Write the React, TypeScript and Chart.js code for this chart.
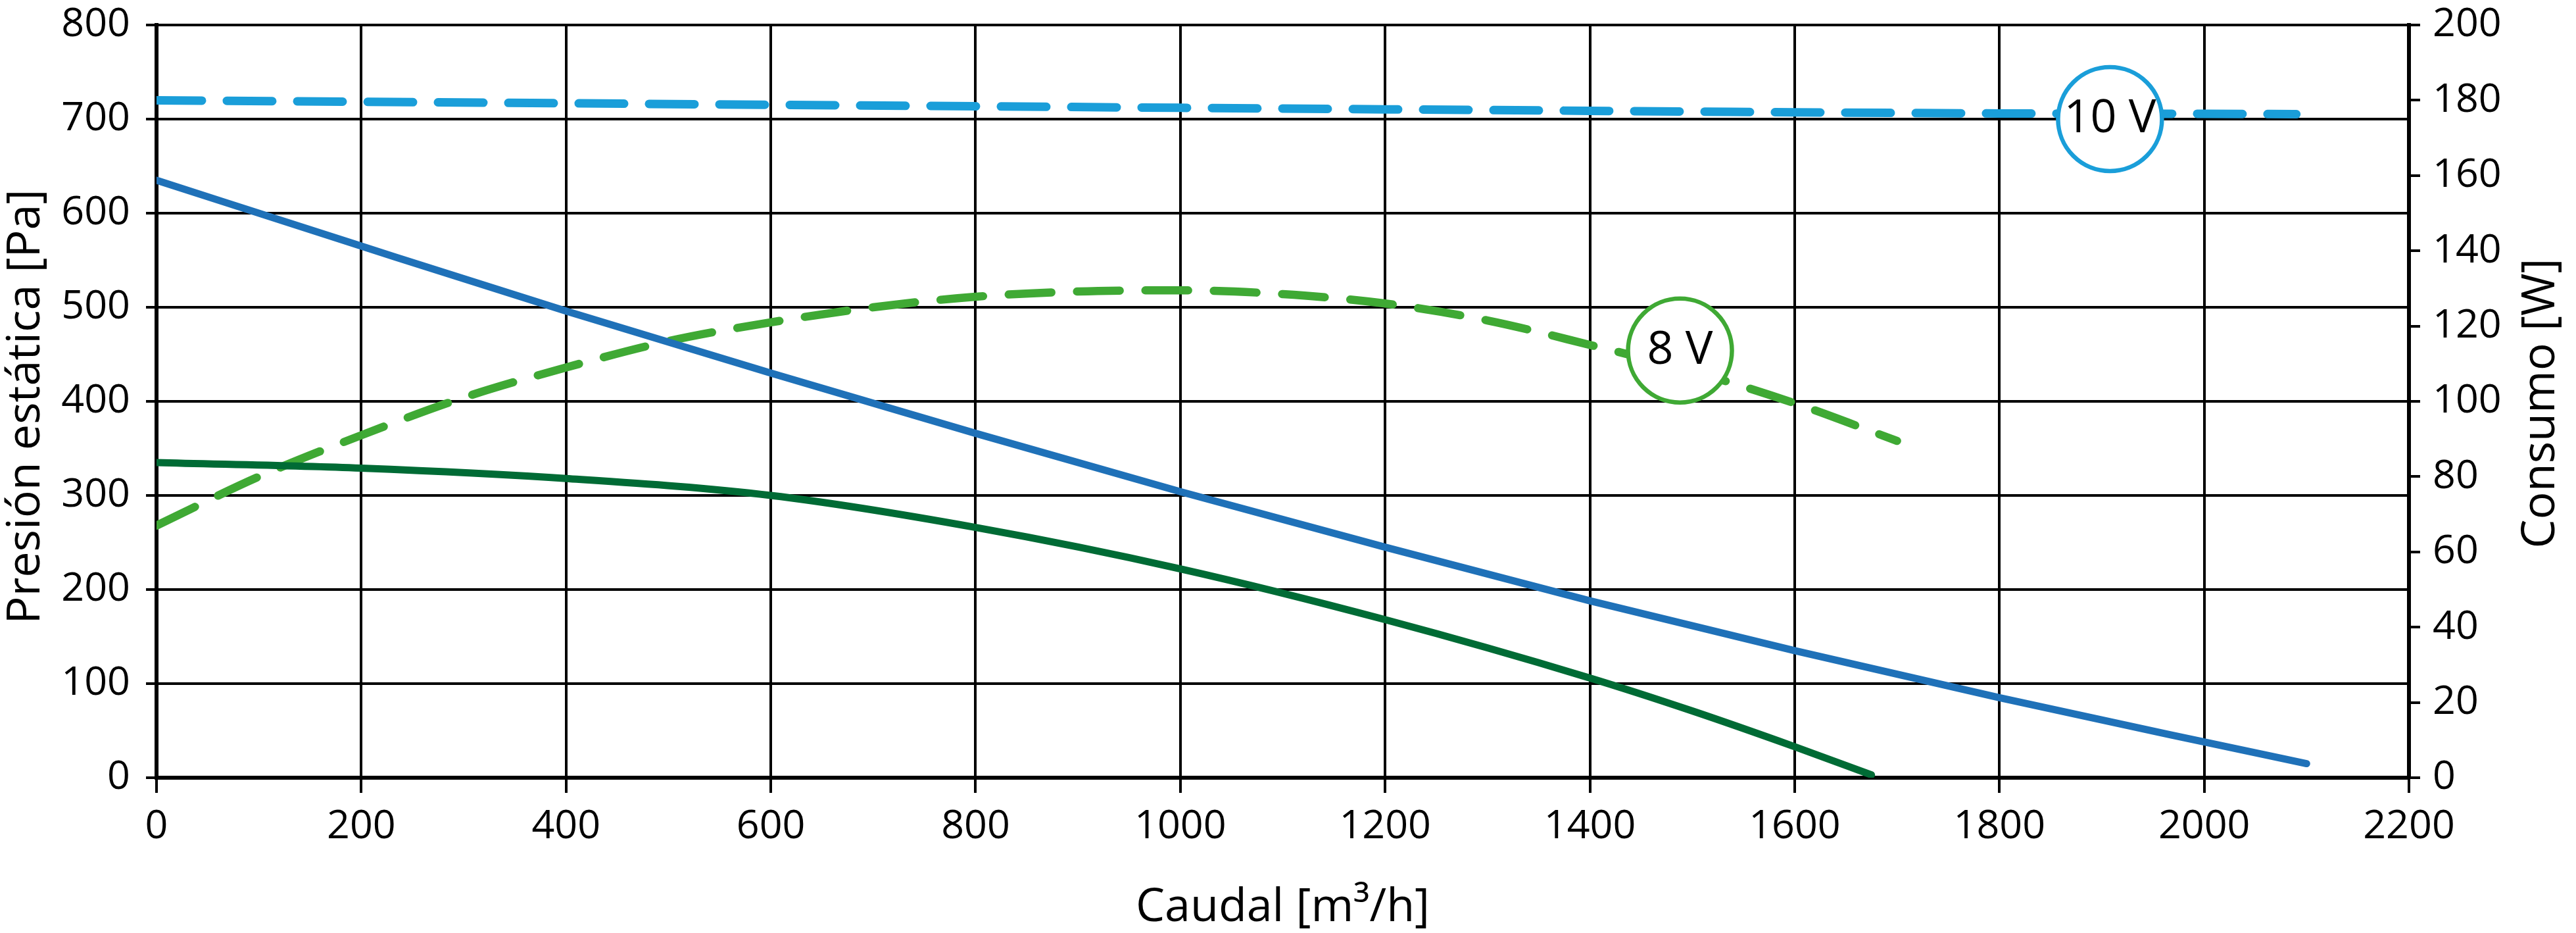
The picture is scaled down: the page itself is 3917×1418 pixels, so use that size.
import React, { useEffect, useRef } from "react";
import { Chart, registerables } from "chart.js";

Chart.register(...registerables);

// Caudal [m³/h] axis ticks
const xTicks = [0, 200, 400, 600, 800, 1000, 1200, 1400, 1600, 1800, 2000, 2200];

// Presión estática 10 V (left axis, Pa)
const flowP10 = [0, 200, 400, 600, 800, 1000, 1200, 1400, 1600, 1800, 2000, 2100];
const pressure10 = [635, 565, 496, 430, 366, 304, 245, 188, 135, 85, 38, 15];

// Presión estática 8 V (left axis, Pa)
const flowP8 = [0, 200, 400, 600, 800, 1000, 1200, 1400, 1500, 1600, 1675];
const pressure8 = [335, 329, 318, 300, 266, 222, 168, 106, 71, 33, 3];

// Consumo 10 V (right axis, W)
const flowW10 = [0, 200, 400, 600, 800, 1000, 1200, 1400, 1600, 1800, 2000, 2090];
const power10 = [180, 179.6, 179.2, 178.8, 178.4, 178.0, 177.6, 177.2, 176.8, 176.5, 176.4, 176.3];

// Consumo 8 V (right axis, W)
const flowW8 = [0, 100, 200, 300, 400, 500, 600, 700, 800, 900, 1000, 1100, 1200, 1300, 1400, 1500, 1600, 1700];
const power8 = [67, 80, 91, 101, 109, 116, 121, 125, 127.8, 129.2, 129.5, 128.5, 126, 121.5, 115, 108, 99.5, 89.5];

// Curve labels (circle markers), positioned in data units (flow, Pa)
const curveLabels = ["10 V", "8 V"];
const curveLabelFlow = [1908, 1488];
const curveLabelPa = [700, 454];

const COL_BLUE = "#1f71b8";
const COL_LIGHTBLUE = "#1a9ed9";
const COL_DARKGREEN = "#006b35";
const COL_GREEN = "#3fa934";
const FONT = '"Open Sans", "Noto Sans", sans-serif';

const pts = (xs: number[], ys: number[]) => xs.map((x, i) => ({ x, y: ys[i] }));

const titlesPlugin = {
  id: "axisTitles",
  afterDatasetsDraw(chart: any) {
    const ctx = chart.ctx as CanvasRenderingContext2D;
    const meta = chart.getDatasetMeta(0);
    ctx.save();
    ctx.fillStyle = "#000";
    ctx.font = `70px ${FONT}`;
    ctx.textAlign = "center";
    ctx.textBaseline = "middle";
    meta.data.forEach((el: any, i: number) => {
      ctx.fillText(curveLabels[i], el.x, el.y);
    });
    ctx.restore();
  },
  afterDraw(chart: any) {
    const ctx = chart.ctx as CanvasRenderingContext2D;
    const a = chart.chartArea;
    ctx.save();
    ctx.fillStyle = "#000";
    ctx.font = `70px ${FONT}`;
    ctx.textAlign = "center";
    ctx.textBaseline = "alphabetic";
    ctx.fillText("Caudal [m³/h]", (a.left + a.right) / 2, a.bottom + 218);

    ctx.save();
    ctx.translate(a.left - 178, (a.top + a.bottom) / 2 + 8);
    ctx.rotate(-Math.PI / 2);
    ctx.fillText("Presión estática [Pa]", 0, 0);
    ctx.restore();

    ctx.save();
    ctx.translate(a.right + 221, (a.top + a.bottom) / 2 + 3);
    ctx.rotate(-Math.PI / 2);
    ctx.fillText("Consumo [W]", 0, 0);
    ctx.restore();
    ctx.restore();
  },
};

const plainLabel = (v: any) => String(v);

export default function App() {
  const ref = useRef<HTMLCanvasElement | null>(null);

  useEffect(() => {
    document.body.style.margin = "0";
    if (!ref.current) return;
    const lineBase = {
      pointRadius: 0,
      pointHoverRadius: 0,
      borderWidth: 11,
      borderCapStyle: "round" as const,
      borderJoinStyle: "round" as const,
      cubicInterpolationMode: "monotone" as const,
      fill: false,
    };
    const chart = new Chart(ref.current, {
      type: "line",
      data: {
        datasets: [
          {
            type: "scatter",
            label: "labels",
            data: pts(curveLabelFlow, curveLabelPa),
            yAxisID: "y",
            pointRadius: [79, 79],
            pointHoverRadius: [79, 79],
            pointBackgroundColor: "#ffffff",
            pointBorderColor: [COL_LIGHTBLUE, COL_GREEN],
            pointBorderWidth: 6.5,
            showLine: false,
            order: 0,
          } as any,
          {
            ...lineBase,
            label: "Presión 10 V",
            data: pts(flowP10, pressure10),
            borderColor: COL_BLUE,
            yAxisID: "y",
            order: 1,
          },
          {
            ...lineBase,
            label: "Presión 8 V",
            data: pts(flowP8, pressure8),
            borderColor: COL_DARKGREEN,
            yAxisID: "y",
            order: 2,
          },
          {
            ...lineBase,
            label: "Consumo 10 V",
            data: pts(flowW10, power10),
            borderColor: COL_LIGHTBLUE,
            borderWidth: 13,
            borderDash: [69, 38],
            yAxisID: "y1",
            order: 3,
          },
          {
            ...lineBase,
            label: "Consumo 8 V",
            data: pts(flowW8, power8),
            borderColor: COL_GREEN,
            borderWidth: 12.5,
            borderDash: [65, 39],
            yAxisID: "y1",
            order: 4,
          },
        ],
      },
      options: {
        animation: false,
        responsive: true,
        maintainAspectRatio: false,
        events: [],
        layout: { autoPadding: false, padding: { top: 38, left: 0, right: 0, bottom: 0 } },
        plugins: {
          legend: { display: false },
          tooltip: { enabled: false },
          title: { display: false },
        },
        scales: {
          x: {
            type: "linear",
            min: xTicks[0],
            max: xTicks[xTicks.length - 1],
            afterBuildTicks: (s: any) => {
              s.ticks = xTicks.map((v) => ({ value: v }));
            },
            afterFit: (s: any) => {
              s.height = 236;
              s.paddingLeft = 0;
              s.paddingRight = 0;
            },
            ticks: {
              color: "#000",
              font: { family: FONT, size: 61 },
              padding: 15,
              maxRotation: 0,
              autoSkip: false,
              callback: plainLabel,
            },
            grid: { color: "#000", lineWidth: 4, tickLength: 23, tickWidth: 4, tickColor: "#000" },
            border: { color: "#000", width: 6 },
          },
          y: {
            type: "linear",
            position: "left",
            min: 0,
            max: 800,
            ticks: {
              stepSize: 100,
              color: "#000",
              font: { family: FONT, size: 61 },
              padding: 24,
              callback: plainLabel,
            },
            afterFit: (s: any) => {
              s.width = 238;
              s.paddingTop = 0;
              s.paddingBottom = 0;
            },
            grid: { color: "#000", lineWidth: 4, tickLength: 16, tickWidth: 4, tickColor: "#000" },
            border: { color: "#000", width: 6 },
          },
          y1: {
            type: "linear",
            position: "right",
            min: 0,
            max: 200,
            ticks: {
              stepSize: 20,
              color: "#000",
              font: { family: FONT, size: 61 },
              padding: 19,
              callback: plainLabel,
            },
            afterFit: (s: any) => {
              s.width = 254;
              s.paddingTop = 0;
              s.paddingBottom = 0;
            },
            grid: {
              drawOnChartArea: false,
              color: "#000",
              lineWidth: 4,
              tickLength: 17,
              tickWidth: 4,
              tickColor: "#000",
            },
            border: { color: "#000", width: 6 },
          },
        },
      },
      plugins: [titlesPlugin],
    });
    return () => chart.destroy();
  }, []);

  return (
    <div style={{ width: "3917px", height: "1418px", position: "relative" }}>
      <canvas ref={ref} />
    </div>
  );
}
